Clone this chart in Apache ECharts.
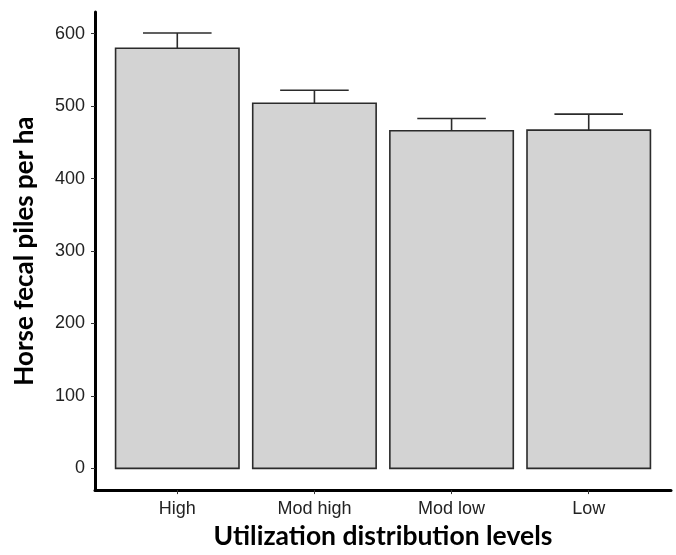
<!DOCTYPE html>
<html>
<head>
<meta charset="utf-8">
<script src="https://cdn.jsdelivr.net/npm/echarts@6/dist/echarts.min.js"></script>
<style>
html,body{margin:0;padding:0;background:#fff;}
#chart{width:676px;height:555px;}
</style>
</head>
<body>
<div id="chart"></div>
<script>
var categories = ['High', 'Mod high', 'Mod low', 'Low'];
var means = [580, 504, 466, 467];
var errorUpper = [601, 522, 483, 489];
var yTicks = [0, 100, 200, 300, 400, 500, 600];

var positions = categories.map(function (c, i) { return i + 1; });
var barData = means.map(function (v, i) { return [positions[i], v]; });
var errData = means.map(function (v, i) { return [positions[i], v, errorUpper[i]]; });

var chart = echarts.init(document.getElementById('chart'));
var lineCol = '#2b2b2b';
chart.setOption({
  animation: false,
  backgroundColor: '#ffffff',
  grid: { left: 95, right: 5, top: 12, bottom: 64, containLabel: false },
  xAxis: {
    type: 'value',
    min: 0.4,
    max: 4.6,
    splitLine: { show: false },
    axisLine: { show: true, onZero: false, lineStyle: { color: '#000', width: 3 } },
    axisTick: { show: true, customValues: positions, length: 4, lineStyle: { color: '#333', width: 1 } },
    axisLabel: {
      customValues: positions,
      formatter: function (v) { return categories[Math.round(v) - 1] || ''; },
      fontFamily: '"Liberation Sans", Arial, sans-serif',
      fontSize: 18,
      color: '#222',
      margin: 10
    },
    name: 'Utilization distribution levels',
    nameLocation: 'middle',
    nameGap: 32,
    nameTextStyle: { fontFamily: 'Lato, sans-serif', fontWeight: 'bold', fontSize: 26.5, color: '#000' }
  },
  yAxis: {
    type: 'value',
    min: -30,
    max: 630,
    splitLine: { show: false },
    axisLine: { show: true, onZero: false, lineStyle: { color: '#000', width: 3 } },
    axisTick: { show: true, customValues: yTicks, length: 4, lineStyle: { color: '#333', width: 1 } },
    axisLabel: {
      customValues: yTicks,
      fontFamily: '"Liberation Sans", Arial, sans-serif',
      fontSize: 18,
      color: '#222',
      margin: 10
    },
    name: 'Horse fecal piles per ha',
    nameLocation: 'middle',
    nameGap: 57,
    nameTextStyle: { fontFamily: 'Lato, sans-serif', fontWeight: 'bold', fontSize: 26, color: '#000' }
  },
  series: [
    {
      type: 'custom',
      data: barData,
      encode: { x: 0, y: 1 },
      renderItem: function (params, api) {
        var x = api.value(0), y = api.value(1);
        var p1 = api.coord([x - 0.45, y]);
        var p2 = api.coord([x + 0.45, 0]);
        return {
          type: 'rect',
          shape: { x: p1[0], y: p1[1], width: p2[0] - p1[0], height: p2[1] - p1[1] },
          style: { fill: '#d3d3d3', stroke: lineCol, lineWidth: 1.6 }
        };
      }
    },
    {
      type: 'custom',
      data: errData,
      encode: { x: 0, y: [1, 2] },
      z: 3,
      renderItem: function (params, api) {
        var x = api.value(0), lo = api.value(1), hi = api.value(2);
        var b = api.coord([x, lo]);
        var t = api.coord([x, hi]);
        var cl = api.coord([x - 0.25, hi]);
        var cr = api.coord([x + 0.25, hi]);
        return {
          type: 'group',
          children: [
            { type: 'line', shape: { x1: b[0], y1: b[1], x2: t[0], y2: t[1] }, style: { stroke: lineCol, lineWidth: 1.6 } },
            { type: 'line', shape: { x1: cl[0], y1: cl[1], x2: cr[0], y2: cr[1] }, style: { stroke: lineCol, lineWidth: 1.6 } }
          ]
        };
      }
    }
  ]
});
</script>
</body>
</html>
